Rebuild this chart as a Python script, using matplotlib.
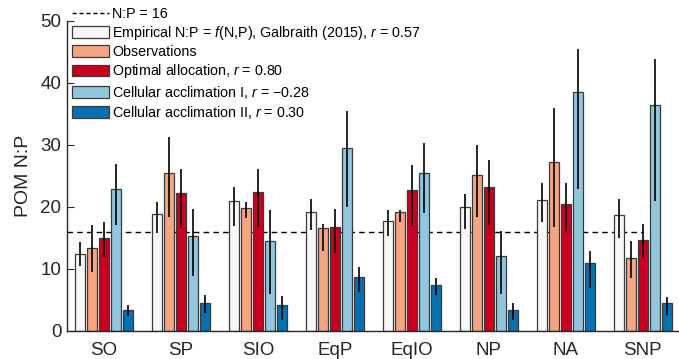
import matplotlib
matplotlib.use('Agg')
import matplotlib.pyplot as plt
import numpy as np

plt.rcParams['font.family'] = ['Liberation Sans', 'DejaVu Sans']
plt.rcParams['mathtext.fontset'] = 'custom'
plt.rcParams['mathtext.rm'] = 'Liberation Sans'
plt.rcParams['mathtext.it'] = 'Liberation Sans:italic'

# regions
regions = ['SO', 'SP', 'SIO', 'EqP', 'EqIO', 'NP', 'NA', 'SNP']

# mean POM N:P per region, one list per series
empirical = [12.4, 18.8, 20.9, 19.2, 17.7, 19.9, 21.0, 18.6]
observations = [13.4, 25.5, 19.8, 16.6, 19.2, 25.1, 27.2, 11.8]
optimal = [15.0, 22.2, 22.3, 16.7, 22.7, 23.2, 20.5, 14.7]
cellular1 = [22.8, 15.2, 14.4, 29.5, 25.5, 12.0, 38.5, 36.4]
cellular2 = [3.4, 4.4, 4.1, 8.6, 7.3, 3.4, 10.9, 4.4]

# error bar ends (lower, upper)
empirical_lo = [10.5, 15.7, 16.9, 16.2, 15.2, 16.4, 17.6, 15.0]
empirical_hi = [14.3, 20.8, 23.1, 21.3, 19.5, 22.0, 23.8, 21.2]
observations_lo = [9.5, 18.3, 18.1, 12.9, 17.6, 18.4, 16.8, 8.5]
observations_hi = [17.0, 31.2, 20.7, 17.2, 19.4, 30.0, 35.9, 14.5]
optimal_lo = [11.9, 16.6, 16.7, 12.5, 16.9, 17.0, 15.9, 11.7]
optimal_hi = [17.5, 26.0, 26.0, 19.7, 26.7, 27.5, 23.8, 17.2]
cellular1_lo = [17.0, 8.9, 5.9, 20.0, 19.0, 6.0, 22.8, 20.9]
cellular1_hi = [26.9, 19.7, 19.4, 35.4, 30.2, 16.1, 45.5, 43.8]
cellular2_lo = [2.3, 2.8, 1.8, 6.2, 5.8, 1.7, 6.9, 2.5]
cellular2_hi = [4.2, 5.7, 5.6, 10.2, 8.5, 4.5, 12.9, 5.4]

labels = ['Empirical N:P = $f$(N,P), Galbraith (2015), $r$ = 0.57',
          'Observations',
          'Optimal allocation, $r$ = 0.80',
          'Cellular acclimation I, $r$ = \u22120.28',
          'Cellular acclimation II, $r$ = 0.30']
colors = ['#f7f7f7', '#f4a582', '#ca0020', '#92c5de', '#0571b0']

series = [empirical, observations, optimal, cellular1, cellular2]
lows = [empirical_lo, observations_lo, optimal_lo, cellular1_lo, cellular2_lo]
highs = [empirical_hi, observations_hi, optimal_hi, cellular1_hi, cellular2_hi]

fig = plt.figure(figsize=(6.79, 3.59), dpi=100)
ax = fig.add_axes([67 / 679, 28.3 / 359, 1 - 67 / 679, 310 / 359])

x = np.arange(len(regions))
width = 0.137
step = 0.156

ax.hlines(16, -0.48, 7.0, colors='black', linestyles=(0, (4, 3)), linewidth=1.0,
          zorder=1)
line_handle = plt.Line2D([], [], color='black', linestyle=(0, (3, 2)), linewidth=1.0)

handles = [line_handle]
for i, vals in enumerate(series):
    pos = x + (i - 2) * step
    v = np.array(vals)
    yerr = [v - np.array(lows[i]), np.array(highs[i]) - v]
    b = ax.bar(pos, vals, width, color=colors[i], edgecolor='#3a3a3a',
               linewidth=0.9, zorder=2, label=labels[i])
    ax.errorbar(pos, vals, yerr=yerr, fmt='none', ecolor='black',
                elinewidth=1.2, capsize=0, zorder=3)
    handles.append(b)

ax.set_xlim(-0.48, 7.47)
ax.set_ylim(0, 50)
ax.set_yticks([0, 10, 20, 30, 40, 50])
ax.set_xticks(x)
ax.set_xticklabels(regions)
ax.tick_params(axis='y', direction='in', length=5, labelsize=13.5, colors='#262626',
               pad=4)
ax.tick_params(axis='x', length=0, labelsize=13.5, colors='#262626', pad=8)
ax.set_ylabel('POM N:P', fontsize=14, color='#262626', labelpad=6)
for s in ['top', 'right']:
    ax.spines[s].set_visible(False)
for s in ['left', 'bottom']:
    ax.spines[s].set_color('#262626')
    ax.spines[s].set_linewidth(1.0)

ax.legend(handles, ['N:P = 16'] + labels, loc='upper left',
          bbox_to_anchor=(72 / 679, 1 - 7 / 359), bbox_transform=fig.transFigure,
          frameon=False, borderpad=0, borderaxespad=0, fontsize=10.3,
          handlelength=2.6, handleheight=0.9, handletextpad=0.2,
          labelspacing=0.22)

fig.savefig('out.png', dpi=100)
